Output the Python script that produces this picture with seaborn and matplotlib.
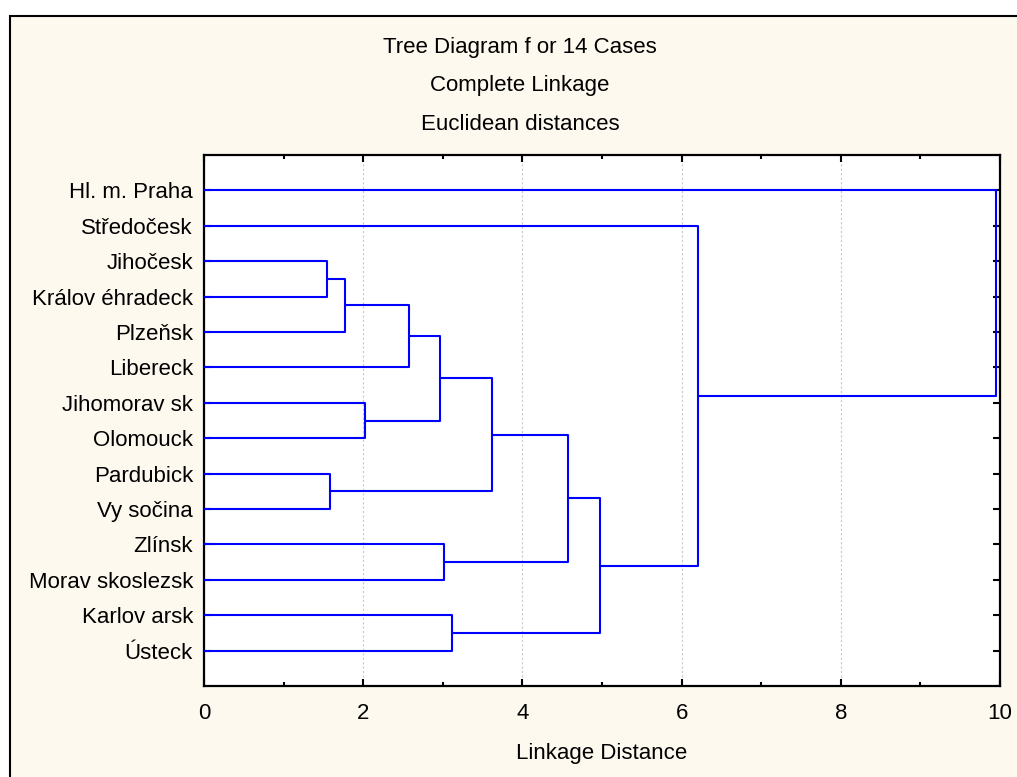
import numpy as np
import pandas as pd
import matplotlib
matplotlib.use("Agg")
import matplotlib.pyplot as plt
from matplotlib.patches import Rectangle
from matplotlib.ticker import MultipleLocator
import seaborn as sns

# ---- data ----
leaf_labels = ["Hl. m. Praha", "Středočesk", "Jihočesk", "Králov éhradeck", "Plzeňsk",
               "Libereck", "Jihomorav sk", "Olomouck", "Pardubick", "Vy sočina",
               "Zlínsk", "Morav skoslezsk", "Karlov arsk", "Ústeck"]
# merges: new cluster id = 14 + index ; (left child, right child)
merge_left = [2, 14, 8, 6, 15, 18, 10, 12, 19, 22, 23, 1, 0]
merge_right = [3, 4, 9, 7, 5, 17, 11, 13, 16, 20, 21, 24, 25]
merge_height = [1.55, 1.77, 1.58, 2.02, 2.58, 2.96, 3.02, 3.12, 3.62, 4.57, 4.98, 6.21, 9.95]
x_ticks = [0, 2, 4, 6, 8, 10]
titles = ["Tree Diagram f or 14 Cases", "Complete Linkage", "Euclidean distances"]
x_label = "Linkage Distance"

# ---- build dendrogram segments from merge table ----
n = len(leaf_labels)
pos = {i: float(i + 1) for i in range(n)}
hgt = {i: 0.0 for i in range(n)}
rows = []
for k, (a, b, h) in enumerate(zip(merge_left, merge_right, merge_height)):
    cid = n + k
    pts = [(hgt[a], pos[a]), (h, pos[a]), (h, pos[b]), (hgt[b], pos[b])]
    for j, (xx, yy) in enumerate(pts):
        rows.append({"x": xx, "y": yy, "seg": k, "order": j})
    pos[cid] = (pos[a] + pos[b]) / 2
    hgt[cid] = h
df = pd.DataFrame(rows)

# ---- style ----
sns.set_style("white")
plt.rcParams["font.family"] = ["Liberation Sans", "DejaVu Sans"]
FS = 16
cream = "#FEF9EF"

fig = plt.figure(figsize=(10.17, 7.77), dpi=100, facecolor="white")
W, H = 1017, 777
bg = Rectangle((10 / W, -0.1), 1.2, 1 - 16 / H + 0.1, transform=fig.transFigure,
               facecolor=cream, edgecolor="black", linewidth=1.5, zorder=-5)
fig.patches.append(bg)

ax = fig.add_axes([204 / W, 1 - 686 / H, (1000 - 204) / W, (686 - 155) / H])
ax.set_facecolor("white")

sns.lineplot(data=df, x="x", y="y", units="seg", estimator=None, sort=False,
             color="#0000FF", linewidth=1.5, ax=ax, legend=False, zorder=3)

ax.set_xlim(0, 10)
ax.set_ylim(n + 1, 0)
ax.set_xticks(x_ticks)
ax.set_xticklabels([str(t) for t in x_ticks])
ax.xaxis.set_minor_locator(MultipleLocator(1))
ax.set_yticks(np.arange(1, n + 1))
ax.set_yticklabels(leaf_labels)
ax.yaxis.set_minor_locator(plt.NullLocator())

ax.tick_params(axis="both", which="both", direction="in", top=True, right=True,
               bottom=True, left=True, color="black", width=1.5, labelsize=FS,
               labelcolor="black")
ax.tick_params(axis="both", which="major", length=5)
ax.tick_params(axis="x", which="minor", length=3)
ax.tick_params(axis="x", which="major", pad=12)
ax.tick_params(axis="y", which="major", pad=8)

ax.grid(axis="x", which="major", linestyle=(0, (2, 2)), color="#c8c8c8", linewidth=0.8)
ax.set_axisbelow(True)
for s in ax.spines.values():
    s.set_visible(True)
    s.set_color("black")
    s.set_linewidth(1.6)

ax.set_xlabel(x_label, fontsize=FS, labelpad=14, color="black")
ax.set_ylabel("")

for i, t in enumerate(titles):
    fig.text(520 / W, 1 - (48 + 38 * i) / H, t, ha="center", va="center",
             fontsize=FS, color="black")

fig.savefig("out.png", dpi=100, facecolor=fig.get_facecolor())
